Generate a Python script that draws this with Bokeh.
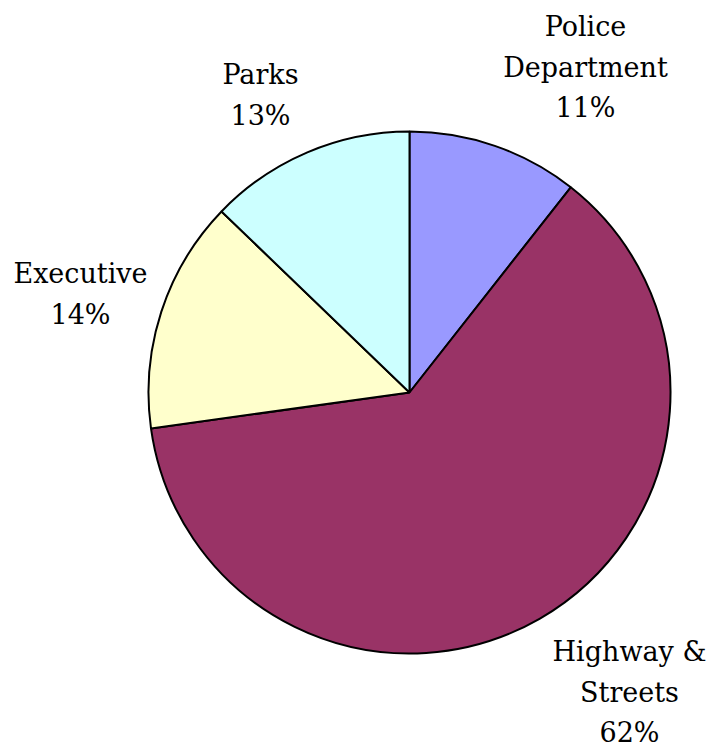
import math
from bokeh.plotting import figure
from bokeh.models import Range1d, ColumnDataSource
from bokeh.core.properties import value
from bokeh.embed import file_html
from bokeh.resources import INLINE

# ---- data ----
categories = ["Police Department", "Highway & Streets", "Executive", "Parks"]
label_lines = [["Police", "Department"], ["Highway &", "Streets"], ["Executive"], ["Parks"]]
values = [10.6, 62.2, 14.4, 12.8]
colors = ["#9999FF", "#993366", "#FFFFCC", "#CCFFFF"]

# ---- layout (page pixel coordinates; y is negated so it grows downward) ----
CX, CY, R = 409, 392, 261
label_anchor = [(585, 26), (629, 651), (80, 273), (260, 74)]  # first line of each label
LINE_GAP = 40.5
FONT = "DejaVu Serif"
FONT_SIZE = "27px"

total = sum(values)
starts, ends = [], []
cum = 0.0
for v in values:
    starts.append(math.pi / 2 - 2 * math.pi * cum / total)
    cum += v
    ends.append(math.pi / 2 - 2 * math.pi * cum / total)

W, H = 708, 751
p = figure(width=W, height=H, output_backend="svg", toolbar_location=None,
           x_range=Range1d(0, W), y_range=Range1d(-H, 0),
           min_border=0, outline_line_color=None)
p.axis.visible = False
p.grid.visible = False

src = ColumnDataSource(dict(x=[CX] * len(values), y=[-CY] * len(values),
                            start=starts, end=ends, color=colors))
p.wedge(x="x", y="y", radius=R, start_angle="start", end_angle="end",
        direction="clock", fill_color="color", line_color="black", line_width=2,
        source=src)

tx, ty, tt = [], [], []
for lines, v, (ax, ay) in zip(label_lines, values, label_anchor):
    pct = f"{round(v / total * 100)}%"
    for i, t in enumerate(lines + [pct]):
        tx.append(ax)
        ty.append(-(ay + i * LINE_GAP))
        tt.append(t)

p.text(x=tx, y=ty, text=tt, text_align="center", text_baseline="alphabetic",
       text_font=value(FONT), text_font_size=FONT_SIZE, text_color="black")

open("out.html", "w").write(file_html(p, INLINE))
